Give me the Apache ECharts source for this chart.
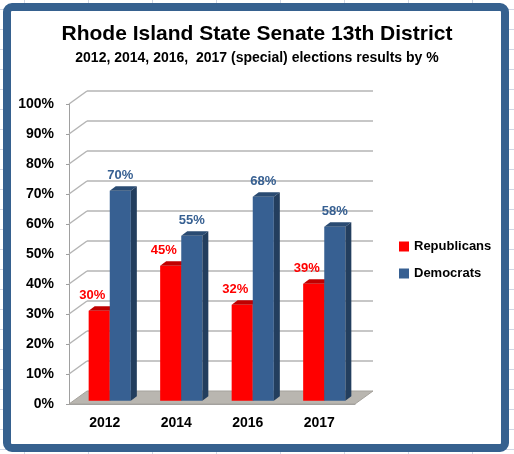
<!DOCTYPE html>
<html>
<head>
<meta charset="utf-8">
<script src="https://cdn.jsdelivr.net/npm/echarts@6/dist/echarts.min.js"></script>
<style>
  html, body { margin: 0; padding: 0; }
  body {
    background-color: #fff;
    background-image:
      repeating-linear-gradient(to bottom, transparent 0, transparent 9px, #D0D7E5 9px, #D0D7E5 10px, transparent 10px, transparent 20px),
      repeating-linear-gradient(to right, transparent 0, transparent 24px, #D0D7E5 24px, #D0D7E5 25px, transparent 25px, transparent 64px);
  }
  #chart { width: 514px; height: 454px; }
</style>
</head>
<body>
<div id="chart"></div>
<script>
// data
var years = ['2012', '2014', '2016', '2017'];
var republicans = [30, 45, 32, 39];
var democrats = [70, 55, 68, 58];
var yTicks = [0, 10, 20, 30, 40, 50, 60, 70, 80, 90, 100];

// 3D look
var wallDx = 18, wallDy = -13;   // depth of the box
var barDx = 6, barDy = -4.5;     // depth of a bar
var inDx = 5, inDy = -3.3;       // bars sit a bit behind the front plane

var font = '"Liberation Sans", Arial, sans-serif';

function wallItem(params, api) {
    var v = api.value(1);
    var p0 = api.coord([0, v]);
    var bw = api.size([1, 0])[0];
    var x0 = p0[0] - bw / 2;
    var x1 = x0 + bw * years.length;
    var y = p0[1];
    if (v === 0) {
        return {
            type: 'polygon',
            shape: { points: [[x0, y], [x1, y], [x1 + wallDx, y + wallDy], [x0 + wallDx, y + wallDy]] },
            style: { fill: '#B9B6B0', stroke: '#A5A29C', lineWidth: 1 }
        };
    }
    return {
        type: 'group',
        children: [
            { type: 'line', shape: { x1: x0, y1: y, x2: x0 + wallDx, y2: y + wallDy },
              style: { stroke: '#B4B4B4', lineWidth: 1.5 } },
            { type: 'line', shape: { x1: x0 + wallDx, y1: y + wallDy, x2: x1 + wallDx, y2: y + wallDy },
              style: { stroke: '#B4B4B4', lineWidth: 1.5 } }
        ]
    };
}

function barRenderer(side, front, top, sideCol, labelCol, labelDx) {
    return function (params, api) {
        var i = api.value(0), v = api.value(1);
        var pb = api.coord([i, 0]);
        var pt = api.coord([i, v]);
        var bw = api.size([1, 0])[0];
        var w = bw * 0.295;
        var x = side < 0 ? pb[0] + inDx - w : pb[0] + inDx;
        var yb = pb[1] + inDy;
        var yt = pt[1] + inDy;
        return {
            type: 'group',
            children: [
                { type: 'rect', shape: { x: x, y: yt, width: w, height: yb - yt }, style: { fill: front } },
                { type: 'polygon', shape: { points: [[x, yt], [x + w, yt], [x + w + barDx, yt + barDy], [x + barDx, yt + barDy]] },
                  style: { fill: top } },
                { type: 'polygon', shape: { points: [[x + w, yt], [x + w + barDx, yt + barDy], [x + w + barDx, yb + barDy], [x + w, yb]] },
                  style: { fill: sideCol } },
                { type: 'text', x: x + w / 2 + labelDx, y: yt + barDy - 4,
                  style: { text: v + '%', fill: labelCol, font: 'bold 13px ' + font, align: 'center', verticalAlign: 'bottom' } }
            ]
        };
    };
}

var chart = echarts.init(document.getElementById('chart'));

var option = {
    animation: false,
    title: [{
        text: 'Rhode Island State Senate 13th District',
        left: 'center', top: 19,
        textStyle: { fontFamily: font, fontWeight: 'bold', fontSize: 21, color: '#000' }
    }, {
        text: '2012, 2014, 2016,  2017 (special) elections results by %',
        left: 'center', top: 46,
        textStyle: { fontFamily: font, fontWeight: 'bold', fontSize: 14, color: '#000' }
    }],
    graphic: [{
        type: 'rect', z: -10,
        shape: { x: 7, y: 7, width: 498, height: 441, r: 5 },
        style: { fill: '#fff', stroke: '#36618F', lineWidth: 8 }
    }],
    legend: {
        orient: 'vertical',
        left: 394, top: 233,
        itemWidth: 10, itemHeight: 10, itemGap: 10,
        icon: 'rect',
        data: ['Republicans', 'Democrats'],
        textStyle: { fontFamily: font, fontWeight: 'bold', fontSize: 13, color: '#000', lineHeight: 17 }
    },
    grid: { left: 69, top: 104, width: 286, height: 300 },
    xAxis: {
        type: 'category',
        data: years,
        axisLine: { lineStyle: { color: '#A0A0A0', width: 1 } },
        axisTick: { length: 5, lineStyle: { color: '#A0A0A0' } },
        axisLabel: { margin: 12, fontFamily: font, fontWeight: 'bold', fontSize: 14, color: '#000' }
    },
    yAxis: {
        type: 'value',
        min: 0, max: 100, interval: 10,
        axisLine: { show: true, lineStyle: { color: '#A0A0A0', width: 1 } },
        axisTick: { show: true, length: 3, lineStyle: { color: '#A0A0A0' } },
        splitLine: { show: false },
        axisLabel: { margin: 15, formatter: '{value}%', fontFamily: font, fontWeight: 'bold', fontSize: 14, color: '#000' }
    },
    series: [{
        name: 'walls',
        type: 'custom',
        silent: true,
        renderItem: wallItem,
        data: yTicks.map(function (t) { return [0, t]; }),
        z: 1
    }, {
        name: 'Republicans',
        type: 'custom',
        color: '#FF0000',
        itemStyle: { color: '#FF0000' },
        renderItem: barRenderer(-1, '#FF0000', '#C00000', '#A00000', '#FF0000', -7),
        data: republicans.map(function (v, i) { return [i, v]; }),
        z: 3
    }, {
        name: 'Democrats',
        type: 'custom',
        color: '#376092',
        itemStyle: { color: '#376092' },
        renderItem: barRenderer(1, '#376092', '#2A4B72', '#233E5E', '#376092', 0),
        data: democrats.map(function (v, i) { return [i, v]; }),
        z: 4
    }]
};

chart.setOption(option);
</script>
</body>
</html>
